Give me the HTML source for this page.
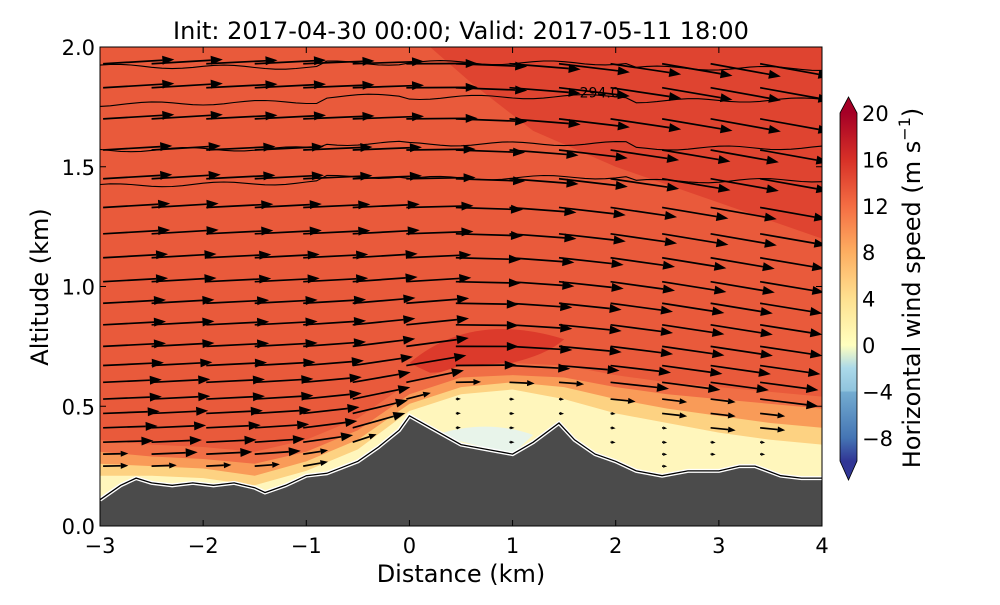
<!DOCTYPE html>
<html><head><meta charset="utf-8"><style>
body{margin:0;background:#fff}
svg{font-family:"DejaVu Sans","Liberation Sans",sans-serif}
</style></head><body>
<svg id="chart" width="1000" height="600" viewBox="0 0 1000 600">
<defs>
<clipPath id="plotclip"><rect x="100" y="47" width="722" height="479"/></clipPath>
<linearGradient id="cbgrad" x1="0" y1="1" x2="0" y2="0">
<stop offset="0" stop-color="#313695"/><stop offset="0.067" stop-color="#4575b4"/>
<stop offset="0.2" stop-color="#74add1"/><stop offset="0.2" stop-color="#8fc3dd"/>
<stop offset="0.267" stop-color="#abd9e9"/><stop offset="0.333" stop-color="#ffffbf"/>
<stop offset="0.467" stop-color="#fee090"/><stop offset="0.6" stop-color="#fdae61"/>
<stop offset="0.733" stop-color="#f46d43"/><stop offset="0.867" stop-color="#d73027"/>
<stop offset="1" stop-color="#a50026"/>
</linearGradient>
</defs>
<text x="461" y="39" font-size="24" text-anchor="middle">Init: 2017-04-30 00:00; Valid: 2017-05-11 18:00</text>
<g id="plot" clip-path="url(#plotclip)"></g>
<rect x="100" y="47" width="722" height="479" fill="none" stroke="#000" stroke-width="1"/>
<g id="axes"></g>
<g id="cbar">
<rect x="840" y="113" width="17" height="348" fill="url(#cbgrad)"/>
<polygon points="840,113 848.5,97 857,113" fill="#a50026"/>
<polygon points="840,461 848.5,480 857,461" fill="#313695"/>
<polygon points="840,113 848.5,97 857,113 857,461 848.5,480 840,461" fill="none" stroke="#000" stroke-width="0.8"/>
</g>
<text transform="translate(920,288) rotate(-90)" font-size="24" text-anchor="middle">Horizontal wind speed (m s<tspan font-size="16" dy="-10">−1</tspan><tspan dy="10">)</tspan></text>
<text transform="translate(48,287) rotate(-90)" font-size="24" text-anchor="middle">Altitude (km)</text>
<text x="461" y="582" font-size="24" text-anchor="middle">Distance (km)</text>
</svg>
<script>
const NS='http://www.w3.org/2000/svg';
const xTicks=[-3,-2,-1,0,1,2,3,4];
const xTickLabels=['−3','−2','−1','0','1','2','3','4'];
const yTicks=[0,0.5,1.0,1.5,2.0];
const yTickLabels=['0.0','0.5','1.0','1.5','2.0'];
const cbTicks=[20,16,12,8,4,0,-4,-8];
const cbTickLabels=['20','16','12','8','4','0','−4','−8'];
const terrainX=[-3,-2.8,-2.65,-2.5,-2.3,-2.1,-1.9,-1.7,-1.5,-1.4,-1.2,-1,-0.8,-0.5,-0.3,-0.1,0,0.25,0.5,0.75,1.0,1.2,1.45,1.6,1.8,2.0,2.2,2.45,2.7,3.0,3.2,3.35,3.6,3.8,4.0];
const terrainZ=[0.11,0.17,0.20,0.18,0.17,0.18,0.17,0.18,0.16,0.14,0.17,0.21,0.22,0.27,0.33,0.40,0.46,0.40,0.34,0.32,0.30,0.35,0.43,0.36,0.30,0.27,0.23,0.21,0.23,0.23,0.25,0.25,0.21,0.20,0.20];
const bandX=[-3,-2.5,-2,-1.5,-1,-0.5,0,0.5,1,1.5,2,2.5,3,3.5,4];
const bandOrange=[0.31,0.29,0.28,0.26,0.31,0.40,0.55,0.62,0.63,0.62,0.58,0.55,0.53,0.51,0.49];
const bandYellow=[0.26,0.25,0.24,0.21,0.27,0.36,0.51,0.58,0.60,0.58,0.53,0.49,0.46,0.43,0.41];
const bandCream=[0.21,0.21,0.20,0.17,0.23,0.32,0.48,0.55,0.57,0.53,0.47,0.43,0.39,0.36,0.34];
const arrowCols=[-2.97,-2.5,-1.97,-1.5,-1.03,-0.55,-0.03,0.45,0.97,1.45,1.95,2.45,2.92,3.4];
const colTopTilt=[0.06,0.06,0.05,0.05,0.04,0.03,0.0,-0.04,-0.08,-0.12,-0.15,-0.17,-0.18,-0.18];
const colLowTilt=[0.0,0.02,0.03,0.05,0.12,0.25,0.2,0.05,0.0,-0.03,-0.03,-0.03,-0.03,-0.03];
const arrowLevels=[0.25,0.30,0.35,0.41,0.47,0.53,0.60,0.67,0.75,0.84,0.93,1.02,1.12,1.22,1.33,1.45,1.57,1.70,1.83,1.93];
const levelSpeed=[9,11,12,13,13.5,14,14,14.5,15,15,15,15.5,15.5,16,16,16.5,16.5,17,17,17];
const thetaZ=[1.42,1.57,1.76,1.92];
const thetaSlope=[0.05,0.02,0.04,-0.02];
const X=x=>100+(x+3)*722/7;
const Y=z=>526-z*479/2;
const CB=v=>461-(v+10)*348/30;
function interp(xs,zs,x){for(let i=0;i<xs.length-1;i++){if(x>=xs[i]&&x<=xs[i+1]){const t=(x-xs[i])/(xs[i+1]-xs[i]);return zs[i]+t*(zs[i+1]-zs[i]);}}return zs[zs.length-1];}
function mk(tag,attrs,parent){const e=document.createElementNS(NS,tag);for(const k in attrs)e.setAttribute(k,attrs[k]);parent.appendChild(e);return e;}
const plot=document.getElementById('plot');
const axes=document.getElementById('axes');
let r=mk('rect',{x:100,y:47,width:722,height:479,fill:'#e95a3b'},plot);


let d=mk('path',{d:`M${X(0.2)},47 L${X(4)},47 L${X(4)},${Y(1.2)} L${X(3)},${Y(1.35)} L${X(2)},${Y(1.5)} L${X(1.2)},${Y(1.65)} L${X(0.6)},${Y(1.85)} Z`,fill:'#df4430'},plot);


let j=mk('path',{d:`M${X(0)},${Y(0.68)} Q${X(0.6)},${Y(0.9)} ${X(1.5)},${Y(0.78)} Q${X(1.2)},${Y(0.66)} ${X(0.2)},${Y(0.64)} Z`,fill:'#dc3a2b'},plot);


function band(zs,fill,name){
 let p=`M${X(bandX[0])},${Y(0)}`;
 bandX.forEach((x,i)=>{p+=` L${X(x)},${Y(zs[i])}`;});
 p+=` L${X(4)},${Y(0)} Z`;
 const e=mk('path',{d:p,fill:fill},plot);
 
 
}
band(bandOrange.map(v=>v+0.05),'#f06e45','band-12');
band(bandOrange,'#f99b58','band-10');
band(bandYellow,'#fdd282','band-6');
band(bandCream,'#fff6bc','band-2');
(function(){
 const e=mk('path',{d:`M${X(0.25)},${Y(0.38)} Q${X(0.75)},${Y(0.45)} ${X(1.2)},${Y(0.38)} L${X(1.0)},${Y(0.3)} Z`,fill:'#e8f4ea'},plot);
 
 })();
thetaZ.forEach((z,k)=>{let p='';for(let x=-3;x<=4.001;x+=0.1){const zz=z+thetaSlope[k]*(x+3)/7*(x<0?1:0.5)+0.008*Math.sin(x*6+k*2)+(x>-0.8&&x<2.2?0.02:0);p+=(p?' L':'M')+`${X(x).toFixed(1)},${Y(zz).toFixed(1)}`;}
 const e=mk('path',{d:p,fill:'none',stroke:'#000','stroke-width':1.1},plot);
 
 });
let lbl=mk('text',{x:X(1.65),y:Y(1.81)+5,'font-size':14},plot);lbl.textContent='294.0';


arrowCols.forEach((cx,ci)=>{arrowLevels.forEach((z,li)=>{
 const ground=interp(terrainX,terrainZ,cx);
 if(z<ground+0.04)return;
 const cream=interp(bandX,bandCream,cx),yel=interp(bandX,bandOrange,cx);
 let s=levelSpeed[li];
 if(z<cream)s=1.2; else if(z<yel)s=6;
 const decay=Math.exp(-(z-ground)/0.35);
 const tilt=colTopTilt[ci]*(1-decay)+colLowTilt[ci]*decay*1.6;
 const len=s*4.2;
 const x0=X(cx),y0=Y(z);
 const x1=x0+len*Math.cos(tilt),y1=y0-len*Math.sin(tilt);
 const g=mk('g',{},plot);
 
 
 const ang=Math.atan2(y1-y0,x1-x0);
 const hl=Math.min(12,Math.max(4,len*0.3)),hw=Math.min(4.5,hl*0.4);
 const bx=x1-hl*Math.cos(ang),by=y1-hl*Math.sin(ang);
 mk('line',{x1:x0,y1:y0,x2:bx,y2:by,stroke:'#000','stroke-width':1.7},g);
 mk('polygon',{points:`${x1},${y1} ${bx-hw*Math.sin(ang)},${by+hw*Math.cos(ang)} ${bx+hw*Math.sin(ang)},${by-hw*Math.cos(ang)}`,fill:'#000'},g);
});});
(function(){let p=`M${X(-3)},${Y(0)}`;terrainX.forEach((x,i)=>{p+=` L${X(x).toFixed(1)},${Y(terrainZ[i]).toFixed(1)}`;});p+=` L${X(4)},${Y(0)} Z`;
 const e=mk('path',{d:p,fill:'#4b4b4b',stroke:'none'},plot);
 
 
 let q='';terrainX.forEach((x,i)=>{q+=(q?' L':'M')+`${X(x).toFixed(1)},${Y(terrainZ[i]).toFixed(1)}`;});
 mk('path',{d:q,fill:'none',stroke:'#fff','stroke-width':4},plot);
 const o=mk('path',{d:q,fill:'none',stroke:'#000','stroke-width':1.3},plot);
 
 })();
xTicks.forEach((v,i)=>{const x=X(v);
 mk('line',{x1:x,y1:526,x2:x,y2:520,stroke:'#000'},axes);mk('line',{x1:x,y1:47,x2:x,y2:53,stroke:'#000'},axes);
 const t=mk('text',{x:x,y:553,'font-size':21,'text-anchor':'middle'},axes);t.textContent=xTickLabels[i];
 
 });
yTicks.forEach((v,i)=>{const y=Y(v);
 mk('line',{x1:100,y1:y,x2:106,y2:y,stroke:'#000'},axes);mk('line',{x1:822,y1:y,x2:816,y2:y,stroke:'#000'},axes);
 const t=mk('text',{x:95,y:y+8,'font-size':21,'text-anchor':'end'},axes);t.textContent=yTickLabels[i];
 
 });
cbTicks.forEach((v,i)=>{const y=CB(v);
 mk('line',{x1:851,y1:y,x2:857,y2:y,stroke:'#000'},axes);
 const t=mk('text',{x:862,y:y+8,'font-size':21},axes);t.textContent=cbTickLabels[i];
 
 });
</script>
</body></html>
